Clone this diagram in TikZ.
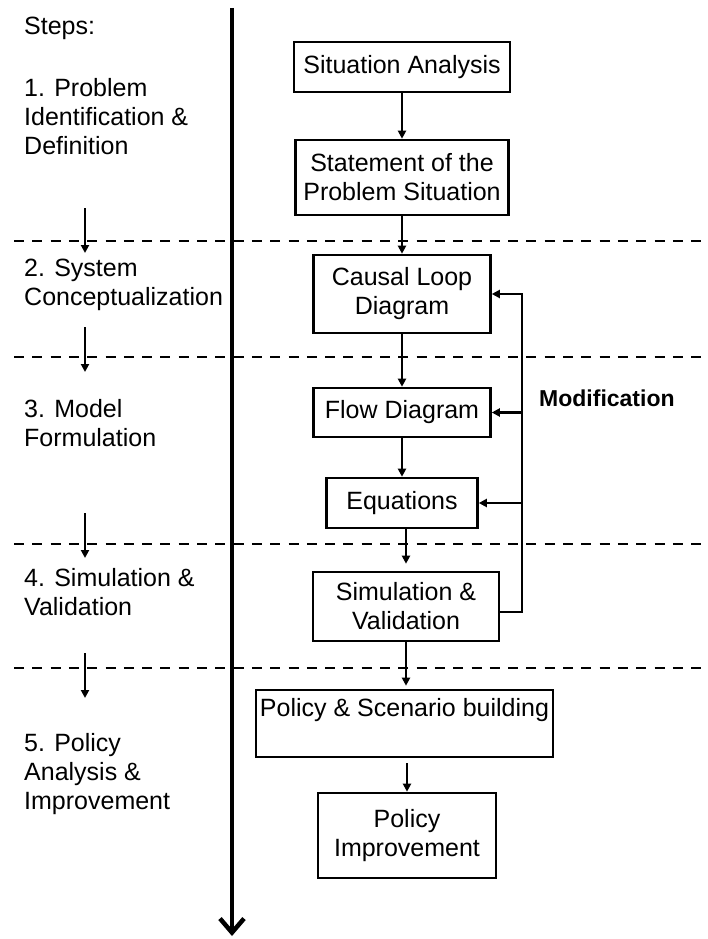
\documentclass[tikz,border=0pt]{standalone}
\usepackage{fontspec}
\setmainfont{Liberation Sans}
\usetikzlibrary{arrows.meta}
\begin{document}
\begin{tikzpicture}[x=1pt,y=-1pt,
  txt/.style={font=\fontsize{25}{29}\selectfont, inner sep=0pt},
  stepbox/.style={txt, draw, line width=2.6pt, align=center},
  flow/.style={line width=2.3pt, -{Triangle[length=8pt,width=8pt]}},
  divider/.style={line width=2.8pt, dash pattern=on 10pt off 8.3pt},
  stage/.style={txt, align=left, anchor=west},
  axis/.style={line width=4.5pt, -{Straight Barb[length=14pt,width=24pt]}}
]
\useasboundingbox (0,0) rectangle (708,939);

% phase separators
\foreach \y in {241,357,544,668} {
  \draw[divider] (14,\y) -- (708,\y);
}

% time axis
\coordinate (axtop) at (232,8);
\coordinate (axbot) at (232,936);
\draw[axis] (axtop) -- (axbot);

% step labels
\node[txt, anchor=base west] (steps) at (24,35) {Steps:};
\node[stage] (s1) at (24,116.5) {1. Problem\\Identification \&\\Definition};
\node[stage] (s2) at (24,285) {2. System\\Conceptualization};
\node[stage] (s3) at (24,423) {3. Model\\Formulation};
\node[stage] (s4) at (24,592.5) {4. Simulation \&\\Validation};
\node[stage] (s5) at (24,774) {5. Policy\\Analysis \&\\Improvement};

% arrows between step labels
\foreach \i/\ya/\yb in {1/208/253, 2/327/372, 3/513/558, 4/653/698} {
  \coordinate (d\i a) at (85,\ya);
  \coordinate (d\i b) at (85,\yb);
  \draw[flow] (d\i a) -- (d\i b);
}

% process boxes
\node[stepbox, minimum width=216pt, minimum height=50pt] (sa) at (402,67) {Situation Analysis};
\node[stepbox, minimum width=213pt, minimum height=75pt] (st) at (402,177.5) {Statement of the\\Problem Situation};
\node[stepbox, minimum width=177pt, minimum height=78pt] (cld) at (402,294) {Causal Loop\\Diagram};
\node[stepbox, minimum width=177pt, minimum height=49pt] (fd) at (402,412.5) {Flow Diagram};
\node[stepbox, minimum width=151pt, minimum height=50pt] (eq) at (402,503) {Equations};
\node[stepbox, minimum width=186pt, minimum height=69pt] (sim) at (406,606.5) {Simulation \&\\Validation};
\node[stepbox, minimum width=297pt, minimum height=67pt, text height=26pt, text depth=41pt] (psb) at (404.5,723.5) {Policy \& Scenario building};
\node[stepbox, minimum width=178pt, minimum height=85pt] (pi) at (407,835.5) {Policy\\Improvement};

% main flow
\draw[flow] (sa.south) -- (sa.south |- st.north);
\draw[flow] (st.south) -- (st.south |- cld.north);
\draw[flow] (cld.south) -- (cld.south |- fd.north);
\draw[flow] (fd.south) -- (fd.south |- eq.north);
\draw[flow, shorten >=7pt] (sim.north |- eq.south) -- (sim.north);
\draw[flow, shorten >=3pt] (sim.south) -- (sim.south |- psb.north);
\draw[flow, shorten <=5pt] (pi.north |- psb.south) -- (pi.north);

% modification feedback loop
\coordinate (mx) at (522,0);
\coordinate (mb) at (522,612);
\draw[flow] (sim.east |- mb) -| (cld.east -| mx) -- (cld.east);
\draw[flow] (fd.east -| mx) -- (fd.east);
\draw[flow] (eq.east -| mx) -- (eq.east);
\node[font=\bfseries\fontsize{23}{28}\selectfont, anchor=base west, inner sep=0pt] (mod) at (539,406) {Modification};

\end{tikzpicture}
\end{document}
